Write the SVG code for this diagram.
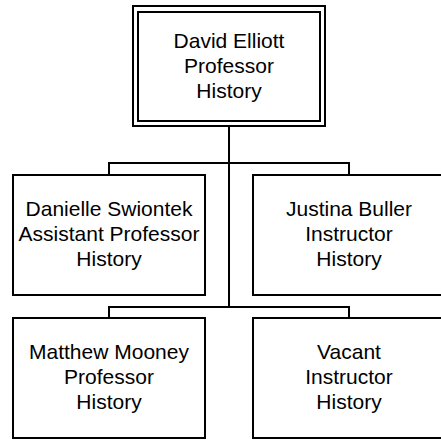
<svg xmlns="http://www.w3.org/2000/svg" width="441" height="442" viewBox="0 0 441 442">
<style>
.box{fill:#fff;stroke:#000;stroke-width:2}
.ln{fill:none;stroke:#000;stroke-width:2}
text{font-family:"Liberation Sans",Arial,sans-serif;font-size:21px;fill:#000;text-anchor:middle}
</style>
<rect width="441" height="442" fill="#fff"/>
<g id="connectors">
<path class="ln" d="M229 126V307"/>
<path class="ln" d="M109 175V163H349V175"/>
<path class="ln" d="M109 318V307H349V318"/>
</g>
<g id="n-elliott">
<rect class="box" x="133" y="6" width="192" height="120"/>
<rect class="box" x="138" y="12" width="182" height="109"/>
<text x="229" y="48">David Elliott</text>
<text x="229" y="73">Professor</text>
<text x="229" y="98">History</text>
</g>
<g id="n-swiontek">
<rect class="box" x="13" y="175" width="192" height="120"/>
<text x="109" y="216">Danielle Swiontek</text>
<text x="109" y="241">Assistant Professor</text>
<text x="109" y="266">History</text>
</g>
<g id="n-buller">
<rect class="box" x="253" y="175" width="192" height="120"/>
<text x="349" y="216">Justina Buller</text>
<text x="349" y="241">Instructor</text>
<text x="349" y="266">History</text>
</g>
<g id="n-mooney">
<rect class="box" x="13" y="318" width="192" height="120"/>
<text x="109" y="359">Matthew Mooney</text>
<text x="109" y="384">Professor</text>
<text x="109" y="409">History</text>
</g>
<g id="n-vacant">
<rect class="box" x="253" y="318" width="192" height="120"/>
<text x="349" y="359">Vacant</text>
<text x="349" y="384">Instructor</text>
<text x="349" y="409">History</text>
</g>
</svg>
